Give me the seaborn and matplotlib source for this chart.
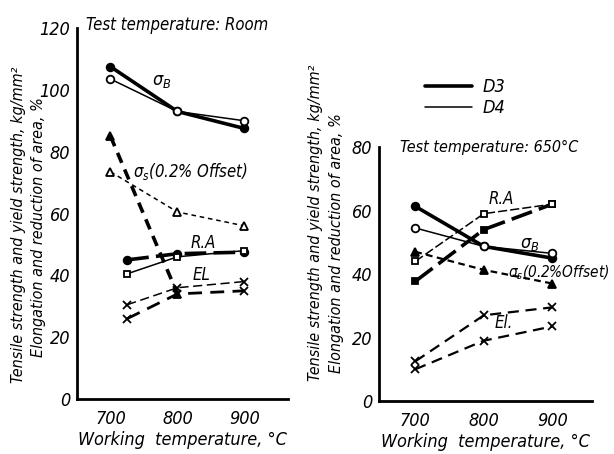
import numpy as np
import matplotlib
matplotlib.use("Agg")
import matplotlib.pyplot as plt
import seaborn as sns
from matplotlib.lines import Line2D

sns.set_style("white")
plt.rcParams['font.family'] = ['DejaVu Sans']
plt.rcParams['font.style'] = 'italic'
plt.rcParams['font.stretch'] = 'condensed'
plt.rcParams['mathtext.fontset'] = 'dejavusans'
plt.rcParams['text.color'] = 'black'
plt.rcParams['axes.labelcolor'] = 'black'
plt.rcParams['xtick.color'] = 'black'
plt.rcParams['ytick.color'] = 'black'

# ---- data ----
temps = [700, 800, 900]
temps_ra = [725, 800, 900]

# Room temperature test
room_sb_d3 = [107.5, 93, 87.5]
room_sb_d4 = [103.5, 93, 90]
room_ss_d3 = [85, 34, np.nan]
room_ss_d4 = [73.5, 60.5, 56]
room_ra_d3 = [45, 47, 47.5]
room_ra_d4 = [40.5, 46, 48]
room_el_d3 = [26, 34, 35]
room_el_d4 = [30.5, 36, 38]

# 650 C test
hot_sb_d3 = [61.3, 48.7, 45]
hot_sb_d4 = [54.5, 48.7, 46.5]
hot_ra_d3 = [37.7, 54, 62]
hot_ra_d4 = [44, 59, 62]
hot_ss = [47, 41.3, 37]
hot_el_d3 = [10, 19, 23.5]
hot_el_d4 = [12.5, 27, 29.5]

left_yticks = [0, 20, 40, 60, 80, 100, 120]
right_yticks = [0, 20, 40, 60, 80]
xticks = [700, 800, 900]

K = 'black'
THICK = 2.6
THIN = 1.1

fig = plt.figure(figsize=(6.14, 4.54), dpi=100)
axL = fig.add_axes([0.1254, 0.1211, 0.3436, 0.8172])
axR = fig.add_axes([0.6173, 0.1167, 0.3469, 0.5595])


def series(ax, x, y, lw, ls, marker, filled, ms=5.5):
    sns.lineplot(x=x, y=y, ax=ax, color=K, lw=lw, linestyle=ls, marker=marker,
                 markersize=ms, markerfacecolor=K if filled else 'white',
                 markeredgecolor=K, markeredgewidth=1.3, sort=False)


# Left panel
series(axL, temps, room_sb_d3, THICK, '-', 'o', True)
series(axL, temps, room_sb_d4, THIN, '-', 'o', False)
series(axL, temps, room_ss_d3, THICK, (0, (3, 2)), '^', True)
series(axL, temps, room_ss_d4, THIN, (0, (3, 2.5)), '^', False)
series(axL, temps_ra, room_ra_d3, THICK, (0, (6, 2)), 'o', True)
series(axL, temps_ra, room_ra_d4, THIN, '-', 's', False, ms=5)
series(axL, temps_ra, room_el_d3, 2.0, (0, (5, 3)), 'x', True)
series(axL, temps_ra, room_el_d4, THIN, (0, (6, 3)), 'x', True)

# Right panel
series(axR, temps, hot_sb_d3, THICK, '-', 'o', True)
series(axR, temps, hot_sb_d4, THIN, '-', 'o', False)
series(axR, temps, hot_ra_d3, THICK, (0, (6, 2)), 's', True, ms=5)
series(axR, temps, hot_ra_d4, THIN, (0, (6, 2)), 's', False, ms=5)
series(axR, temps, hot_ss, 1.6, (0, (3, 2)), '^', True)
series(axR, temps, hot_el_d3, 1.6, (0, (5, 3)), 'x', True)
series(axR, temps, hot_el_d4, 1.6, (0, (5, 3)), 'x', True)

for ax, yt, xl, yl in [(axL, left_yticks, (650, 965), (0, 120)),
                        (axR, right_yticks, (647, 958), (0, 80))]:
    ax.set_xlim(*xl)
    ax.set_ylim(*yl)
    ax.set_xticks(xticks)
    ax.set_yticks(yt)
    ax.set_xticklabels([str(t) for t in xticks], fontsize=13, style='italic')
    ax.set_yticklabels([str(t) for t in yt], fontsize=13, style='italic')
    for s in ['top', 'right']:
        ax.spines[s].set_visible(False)
    for s in ['left', 'bottom']:
        ax.spines[s].set_linewidth(2.0)
        ax.spines[s].set_color(K)
    ax.tick_params(axis='x', direction='in', length=5, width=1.5, pad=8, colors=K)
    ax.tick_params(axis='y', direction='out', length=4, width=1.5, pad=1, colors=K)
    ax.set_xlabel('Working  temperature, °C', fontsize=13, style='italic', labelpad=2)
    ax.set_ylabel('')
    ax.patch.set_alpha(0)

# Titles / annotations
axL.text(664, 121, 'Test temperature: Room', fontsize=12, style='italic', va='center', ha='left')
axL.text(762, 103, r'$\sigma_B$', fontsize=13, va='center', ha='left')
axL.text(733, 73.5, r'$\sigma_s$(0.2% Offset)', fontsize=12, va='center', ha='left')
axL.text(820, 50.5, 'R.A', fontsize=12, va='center', ha='left')
axL.text(822, 40, 'EL', fontsize=12, va='center', ha='left')

axR.text(678, 80, 'Test temperature: 650°C', fontsize=11.5, style='italic', va='center', ha='left')
axR.text(853, 49.5, r'$\sigma_B$', fontsize=13, va='center', ha='left')
axR.text(836, 40.5, r'$\sigma_s$(0.2%Offset)', fontsize=11, va='center', ha='left', clip_on=False)
axR.text(807, 63.5, 'R.A', fontsize=12, va='center', ha='left')
axR.text(816, 24.5, 'El.', fontsize=12, va='center', ha='left')

# Y labels
for x1, x2, yc1, yc2 in [(0.030, 0.063, 0.505, 0.50), (0.514, 0.548, 0.51, 0.465)]:
    fig.text(x1, yc1, 'Tensile strength and yield strength, kg/mm²', rotation=90,
             fontsize=11.5, style='italic', ha='center', va='center')
    fig.text(x2, yc2, 'Elongation and reduction of area, %', rotation=90,
             fontsize=11.5, style='italic', ha='center', va='center')

# Legend
handles = [Line2D([0], [0], color=K, lw=THICK), Line2D([0], [0], color=K, lw=THIN)]
fig.legend(handles, ['D3', 'D4'], loc='center left', bbox_to_anchor=(0.665, 0.785),
           frameon=False, handlelength=2.6, labelspacing=0.15,
           handletextpad=0.6, prop={'style': 'italic', 'size': 13})

fig.savefig('out.png', dpi=100)
